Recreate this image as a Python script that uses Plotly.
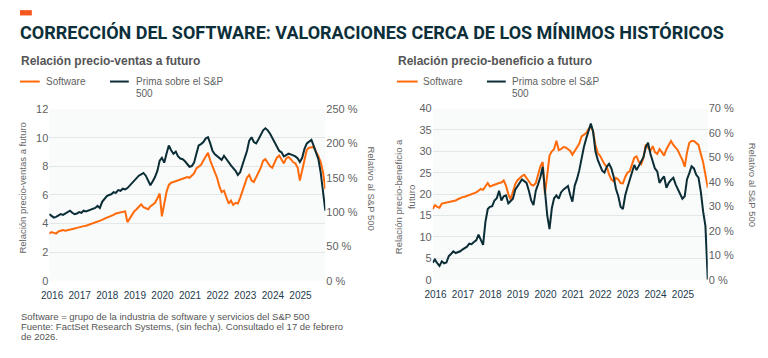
import pandas as pd
import plotly.graph_objects as go

# ---------------- data (monthly readings, Feb 2016 - Feb 2026) ----------------
fechas = pd.date_range("2016-02-01", periods=121, freq="MS") + pd.Timedelta(days=16)
anios = list(range(2016, 2026))
etiquetas_anio = [str(a) for a in anios]

# Forward price/sales ratio - Software (left axis)
ps_software = [3.3, 3.4, 3.35, 3.3, 3.45, 3.5, 3.55, 3.5, 3.55, 3.6,
               3.62, 3.65, 3.7, 3.75, 3.78, 3.82, 3.85, 3.9, 3.95, 4.0,
               4.05, 4.12, 4.2, 4.25, 4.35, 4.4, 4.45, 4.55, 4.6, 4.7,
               4.75, 4.8, 4.85, 4.85, 4.1, 4.35, 4.65, 4.85, 5.0, 5.2,
               5.35, 5.15, 5.05, 5.0, 5.2, 5.35, 5.45, 5.75, 6.1, 4.5,
               5.4, 6.2, 6.7, 6.85, 6.9, 6.95, 7.0, 7.05, 7.1, 7.2,
               7.25, 7.2, 7.35, 7.5, 7.85, 8.0, 8.1, 8.4, 8.7, 8.95,
               8.4, 8.0, 7.7, 7.2, 6.6, 6.2, 6.3, 5.8, 5.4, 5.6,
               5.3, 5.45, 5.4, 5.8, 6.3, 6.8, 7.2, 7.4, 7.0, 6.9,
               7.2, 7.6, 7.9, 8.4, 8.5, 8.25, 8.0, 7.9, 8.3, 8.6,
               8.75, 8.5, 8.2, 8.55, 8.65, 8.5, 8.3, 8.2, 7.9, 7.0,
               7.8, 8.6, 9.15, 9.3, 9.3, 9.35, 9.0, 8.7, 8.3, 7.6,
               6.4]

# Premium vs S&P 500 (%) - price/sales (right axis)
ps_prima = [97, 94, 92, 93, 95, 97, 96, 98, 100, 102,
            99, 97, 98, 100, 99, 102, 101, 102, 104, 105,
            106, 109, 106, 115, 120, 123, 125, 126, 129, 128,
            132, 131, 134, 133, 135, 139, 142, 145, 150, 153,
            155, 157, 153, 146, 139, 145, 151, 160, 175, 179,
            172, 185, 197, 190, 185, 188, 181, 178, 177, 174,
            170, 166, 167, 172, 185, 197, 199, 202, 207, 209,
            200, 189, 184, 181, 178, 176, 182, 177, 172, 168,
            164, 160, 154, 158, 169, 179, 189, 204, 209, 202,
            200, 206, 213, 219, 222, 219, 214, 208, 200, 194,
            189, 187, 181, 183, 185, 184, 183, 181, 178, 173,
            179, 192, 200, 203, 205, 196, 188, 177, 158, 133,
            102]

# Forward price/earnings ratio - Software (left axis)
pe_software = [16.5, 17.4, 17.0, 16.8, 17.8, 17.9, 18.0, 18.2, 18.2, 18.4,
               18.5, 18.8, 19.1, 19.3, 19.4, 19.6, 19.7, 20.0, 20.2, 20.4,
               20.8, 21.2, 21.0, 21.8, 22.6, 21.8, 22.0, 22.3, 22.5, 22.6,
               22.7, 23.2, 22.0, 20.0, 18.8, 20.5, 22.3, 23.2, 23.8, 24.2,
               24.5, 23.6, 23.0, 22.2, 22.0, 22.6, 24.8, 26.5, 27.5, 20.0,
               24.5, 29.0, 30.0, 30.5, 32.5, 30.3, 30.5, 31.0, 30.9, 30.5,
               30.1, 29.2, 30.1, 31.0, 31.8, 33.5, 34.0, 34.3, 35.2, 35.8,
               34.6, 31.5, 29.6, 29.0, 28.0, 27.0, 26.4, 24.6, 23.4, 23.0,
               23.8, 23.4, 22.6, 22.5, 24.0, 25.0, 25.3, 26.8, 28.5, 28.8,
               27.5, 27.0, 28.5, 31.6, 30.8, 30.1, 31.2, 29.8, 29.4, 30.5,
               29.8, 29.0, 30.5, 31.4, 32.4, 31.5, 30.9, 30.2, 29.0, 28.0,
               26.4, 29.7, 32.0, 32.4, 32.4, 32.0, 31.5, 29.4, 27.5, 24.5,
               21.5]

# Premium vs S&P 500 (%) - price/earnings (right axis)
pe_prima = [7.0, 8.2, 6.7, 5.6, 7.5, 6.7, 7.0, 9.6, 10.5, 11.6,
            10.9, 11.2, 11.6, 12.3, 12.8, 13.5, 14.7, 14.5, 15.4, 16.1,
            18.4, 16.6, 14.2, 23.6, 28.9, 29.8, 30.1, 32.4, 33.3, 36.4,
            32.4, 34.1, 34.5, 31.2, 32.0, 33.1, 36.8, 38.3, 39.4, 41.0,
            40.3, 39.6, 36.4, 32.4, 30.5, 36.4, 39.0, 42.0, 46.2, 37.1,
            26.3, 20.7, 29.2, 33.3, 34.5, 33.1, 35.7, 36.8, 37.6, 38.3,
            34.5, 31.9, 38.5, 41.1, 44.8, 49.9, 54.3, 57.8, 60.6, 63.9,
            60.6, 52.5, 49.0, 46.9, 44.6, 43.8, 46.2, 47.4, 45.5, 42.0,
            37.1, 34.1, 29.8, 28.9, 34.5, 37.6, 41.1, 43.8, 46.9, 44.8,
            46.4, 48.1, 50.1, 54.3, 56.0, 51.5, 48.1, 45.5, 44.3, 39.6,
            41.1, 42.2, 37.6, 39.6, 40.8, 41.7, 39.0, 36.8, 35.0, 33.1,
            34.1, 41.0, 43.6, 46.4, 45.5, 42.9, 41.7, 35.9, 28.0, 21.9,
            0.0]

# ---------------- styling ----------------
# page body keeps its default 8px margin, so the figure is 16px smaller
PAD = 8
W, H = 768 - 2 * PAD, 358 - 2 * PAD
NARANJA = "#ff6b0a"
OSCURO = "#0b2d36"
GRIS = "#5f5f5f"
GRID = "#e4e7e7"
FONT = "Liberation Sans"


def fx(p):
    return (p - PAD) / W


def fy(p):
    return 1 - (p - PAD) / H


tickvals = [pd.Timestamp(a, 3, 25) for a in anios]

fig = go.Figure()
fig.add_trace(go.Scatter(x=fechas, y=ps_software, xaxis="x", yaxis="y", mode="lines",
                         line=dict(color=NARANJA, width=2), name="Software"))
fig.add_trace(go.Scatter(x=fechas, y=ps_prima, xaxis="x", yaxis="y2", mode="lines",
                         line=dict(color=OSCURO, width=2), name="Prima sobre el S&P 500"))
fig.add_trace(go.Scatter(x=fechas, y=pe_software, xaxis="x2", yaxis="y3", mode="lines",
                         line=dict(color=NARANJA, width=2), name="Software"))
fig.add_trace(go.Scatter(x=fechas, y=pe_prima, xaxis="x2", yaxis="y4", mode="lines",
                         line=dict(color=OSCURO, width=2), name="Prima sobre el S&P 500"))

xcommon = dict(range=[fechas[0], fechas[-1]], tickvals=tickvals, ticktext=etiquetas_anio,
               showgrid=False, zeroline=False, ticks="", showline=False, ticklabelstandoff=7,
               tickfont=dict(family=FONT, size=10, color="#1d3a4c"))
yleft = dict(showgrid=True, gridcolor=GRID, gridwidth=1, zeroline=False, ticks="",
             showline=False, tickfont=dict(family=FONT, size=11, color=GRIS))
yright = dict(showgrid=False, zeroline=False, ticks="", showline=False, side="right",
              ticksuffix=" %", tickfont=dict(family=FONT, size=11, color=GRIS))

fig.update_layout(
    width=W, height=H,
    margin=dict(l=0, r=0, t=0, b=0),
    paper_bgcolor="white",
    plot_bgcolor="#f9fafa",
    showlegend=False,
    xaxis=dict(domain=[fx(41.65), fx(320.65)], anchor="y", **xcommon),
    yaxis=dict(domain=[fy(284.5), fy(106.5)], anchor="x", range=[0, 12], dtick=2, **yleft),
    yaxis2=dict(overlaying="y", anchor="x", range=[0, 250], dtick=50, **yright),
    xaxis2=dict(domain=[fx(429.2), fx(707.2)], anchor="y3", **xcommon),
    yaxis3=dict(domain=[fy(283.3), fy(106)], anchor="x2", range=[0, 40], dtick=5, **yleft),
    yaxis4=dict(overlaying="y3", anchor="x2", range=[0, 70], dtick=10, **yright),
)

# orange tag
fig.add_shape(type="rect", xref="paper", yref="paper", x0=fx(12), x1=fx(24), y0=fy(9.5), y1=fy(4),
              fillcolor="#f4581f", line=dict(width=0))

ann = []
ann.append(dict(text="<b>CORRECCIÓN DEL SOFTWARE: VALORACIONES CERCA DE LOS MÍNIMOS HISTÓRICOS</b>",
                x=fx(10), y=fy(27), xanchor="left", yanchor="middle",
                font=dict(family="Roboto", size=18, color="#0c2f3a")))
ann.append(dict(text="<b>Relación precio-ventas a futuro</b>", x=fx(11), y=fy(57),
                xanchor="left", yanchor="middle", font=dict(family=FONT, size=12, color="#555555")))
ann.append(dict(text="<b>Relación precio-beneficio a futuro</b>", x=fx(392), y=fy(57),
                xanchor="left", yanchor="middle", font=dict(family=FONT, size=12, color="#555555")))

# legends
for x0, x1, c in [(12, 32, NARANJA), (103, 122, OSCURO), (393, 414, NARANJA), (484, 503, OSCURO)]:
    fig.add_shape(type="line", xref="paper", yref="paper", x0=fx(x0), x1=fx(x1), y0=fy(78), y1=fy(78),
                  line=dict(color=c, width=2))
leg_font = dict(family=FONT, size=10, color=GRIS)
for xs, xp in [(36, 127), (417, 507)]:
    ann.append(dict(text="Software", x=fx(xs), y=fy(78), xanchor="left", yanchor="middle", font=leg_font))
    ann.append(dict(text="Prima sobre el S&P", x=fx(xp), y=fy(78), xanchor="left", yanchor="middle",
                    font=leg_font))
    ann.append(dict(text="500", x=fx(xp), y=fy(90), xanchor="left", yanchor="middle", font=leg_font))

# axis titles
at_font = dict(family=FONT, size=9.5, color="#666666")
ann.append(dict(text="Relación precio-ventas a futuro", x=fx(15), y=fy(188), textangle=-90,
                xanchor="center", yanchor="middle", font=at_font))
ann.append(dict(text="Relativo al S&P 500", x=fx(367), y=fy(189), textangle=90,
                xanchor="center", yanchor="middle", font=at_font))
ann.append(dict(text="Relación precio-beneficio a<br>futuro", x=fx(401), y=fy(197), textangle=-90,
                xanchor="center", yanchor="middle", font=at_font, align="center"))
ann.append(dict(text="Relativo al S&P 500", x=fx(752), y=fy(185), textangle=90,
                xanchor="center", yanchor="middle", font=at_font))

# footnotes
fn_font = dict(family=FONT, size=9.5, color="#555555")
for txt, yy in [("Software = grupo de la industria de software y servicios del S&P 500", 322),
                ("Fuente: FactSet Research Systems, (sin fecha). Consultado el 17 de febrero", 332),
                ("de 2026.", 342)]:
    ann.append(dict(text=txt, x=fx(11), y=fy(yy), xanchor="left", yanchor="middle", font=fn_font))

for a in ann:
    a.update(xref="paper", yref="paper", showarrow=False)
fig.update_layout(annotations=ann)

fig.write_html("out.html", include_plotlyjs=True, config={"displayModeBar": False})
